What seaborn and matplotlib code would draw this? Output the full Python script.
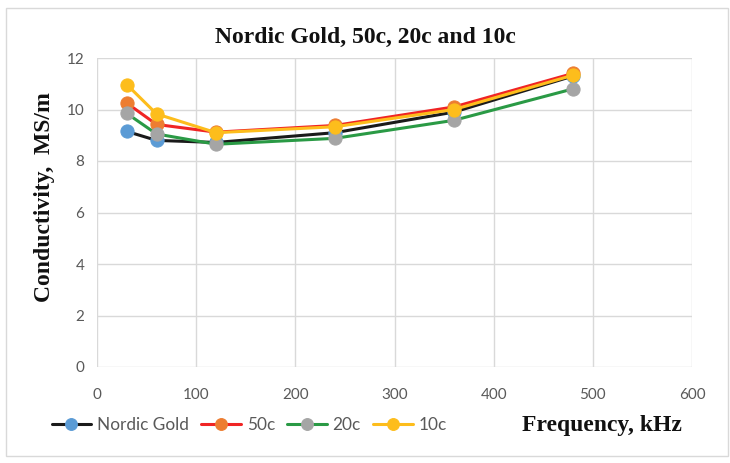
import pandas as pd
import seaborn as sns
import matplotlib.pyplot as plt
from matplotlib.patches import Rectangle

# values
freq = [30, 60, 120, 240, 360, 480]
nordic_gold = [9.15, 8.8, 8.72, 9.1, 9.9, 11.3]
c50 = [10.25, 9.42, 9.12, 9.38, 10.1, 11.4]
c20 = [9.85, 9.05, 8.65, 8.88, 9.58, 10.8]
c10 = [10.97, 9.83, 9.1, 9.33, 10.0, 11.33]

series = ["Nordic Gold", "50c", "20c", "10c"]
values = [nordic_gold, c50, c20, c10]
line_colors = ["#1a1a1a", "#f02424", "#2a9a45", "#fdbd1c"]
marker_colors = ["#5b9bd5", "#ed7d31", "#a5a5a5", "#fdbd1c"]

df = pd.DataFrame({"Frequency": freq * len(series),
                   "Conductivity": sum(values, []),
                   "Series": [s for s in series for _ in freq]})

sns.set_style("white")
plt.rcParams['font.family'] = ['Lato', 'DejaVu Sans']

fig = plt.figure(figsize=(7.3, 4.63), dpi=100)
ax = fig.add_axes([97 / 730, 1 - 367 / 463, 595 / 730, 309 / 463])

# outer chart border
fig.patches.append(Rectangle((6 / 730, 1 - 456 / 463), 722 / 730, 448 / 463,
                             transform=fig.transFigure, fill=False,
                             edgecolor="#d9d9d9", linewidth=1))

for name, lc, mc in zip(series, line_colors, marker_colors):
    sns.lineplot(data=df[df["Series"] == name], x="Frequency", y="Conductivity",
                 color=lc, linewidth=2.2, marker="o", markersize=9.5,
                 markerfacecolor=mc, markeredgecolor=mc, label=name, ax=ax)

ax.set_xlim(0, 600)
ax.set_ylim(0, 12)
ax.set_xticks(range(0, 601, 100))
ax.set_yticks(range(0, 13, 2))
ax.grid(True, color="#d9d9d9", linewidth=1)
for s in ax.spines.values():
    s.set_visible(False)
ax.tick_params(colors="#595959", labelsize=11, length=0)
ax.tick_params(axis="x", pad=15)
ax.tick_params(axis="y", pad=9)
ax.set_xlabel("")
ax.set_ylabel("")

serif = dict(family="Liberation Serif", fontweight="bold", fontsize=17, color="#111111")
fig.text(365 / 730, 1 - 37 / 463, "Nordic Gold, 50c, 20c and 10c",
         ha="center", va="center", **serif)
fig.text(45 / 730, 1 - 197 / 463, "Conductivity,  MS/m", rotation=90,
         ha="center", va="center", **serif)
fig.text(522 / 730, 1 - 425 / 463, "Frequency, kHz", ha="left", va="center", **serif)

leg = ax.legend(loc="center left", bbox_to_anchor=(36 / 730, 1 - 425 / 463),
                bbox_transform=fig.transFigure, ncol=4, frameon=False,
                fontsize=12.4, handlelength=2.3, handletextpad=0.35,
                columnspacing=0.7, labelcolor="#595959")
for h in leg.legend_handles:
    h.set_markersize(8.5)

plt.savefig("out.png", dpi=100)
